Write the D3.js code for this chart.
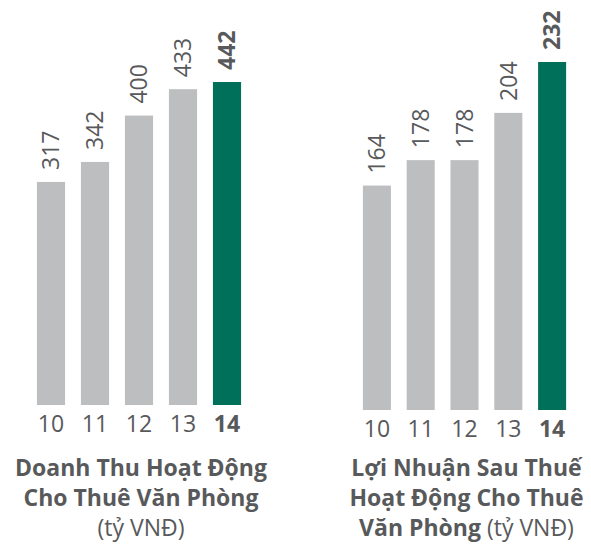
<!DOCTYPE html>
<html>
<head>
<meta charset="utf-8">
<script src="https://cdn.jsdelivr.net/npm/d3@7"></script>
<style>
  body { margin: 0; background: #fff; }
  svg text { font-family: "Open Sans", sans-serif; fill: #58595b; }
</style>
</head>
<body>
<div id="placeholder"></div>
<script>
// Data
var years = ["10", "11", "12", "13", "14"];
var revenue = [317, 342, 400, 433, 442];
var profit = [164, 178, 178, 204, 232];
var revenueTitle = [["Doanh Thu Hoạt Động", ""], ["Cho Thuê Văn Phòng", ""], ["", "(tỷ VNĐ)"]];
var profitTitle = [["Lợi Nhuận Sau Thuế", ""], ["Hoạt Động Cho Thuê", ""], ["Văn Phòng", " (tỷ VNĐ)"]];

var grey = "#bcbec0";
var green = "#00705a";

var W = 591, H = 544;
var svg = d3.select("#placeholder").append("svg").attr("width", W).attr("height", H);

// one small bar panel
function panel(values, title, opts) {
  var last = values.length - 1;
  var x = d3.scaleBand().domain(years).range([opts.x0, opts.x1]).paddingInner(0.36).paddingOuter(0.18);
  var y = d3.scaleLinear().domain(opts.domain).range([opts.base, opts.top]);

  var g = svg.append("g");

  g.selectAll(".bar").data(values).enter().append("rect")
    .attr("class", "bar")
    .attr("x", function (d, i) { return x(years[i]); })
    .attr("y", function (d) { return y(d); })
    .attr("width", x.bandwidth())
    .attr("height", function (d) { return opts.base - y(d); })
    .style("fill", function (d, i) { return i == last ? green : grey; });

  // value labels, rotated
  g.selectAll(".val").data(values).enter().append("text")
    .attr("class", "val")
    .attr("transform", function (d, i) {
      var cx = x(years[i]) + x.bandwidth()/2;
      return "translate(" + cx + "," + (y(d) - 12) + ") rotate(-90)";
    })
    .attr("dy", "0.36em")
    .style("font-size", "23px")
    .style("font-weight", function (d, i) { return i == last ? "bold" : "normal"; })
    .text(function (d) { return d; });

  // year labels
  var axis = d3.axisBottom(x).tickSize(0).tickPadding(0);
  var ax = g.append("g").attr("transform", "translate(0," + opts.base + ")").call(axis);
  ax.select(".domain").remove();
  ax.selectAll("text")
    .attr("y", 27)
    .attr("dy", 0)
    .style("font-size", "23px")
    .style("font-family", '"Open Sans", sans-serif')
    .style("fill", "#58595b")
    .style("font-weight", function (d, i) { return i == last ? "bold" : "normal"; });

  // title block
  var cx = (opts.x0 + opts.x1)/2 + 2;
  title.forEach(function (line, k) {
    var t = g.append("text")
      .attr("x", cx)
      .attr("y", 476 + 30*k)
      .attr("text-anchor", "middle")
      .style("font-size", "23px");
    if (line[0]) t.append("tspan").style("font-weight", "bold").text(line[0]);
    if (line[1]) t.append("tspan").text(line[1]);
  });
}

panel(revenue, revenueTitle, {x0: 29, x1: 249, base: 405, top: 82, domain: [38, 442]});
panel(profit, profitTitle, {x0: 355, x1: 574, base: 410, top: 62, domain: [40.5, 232]});
</script>
</body>
</html>
